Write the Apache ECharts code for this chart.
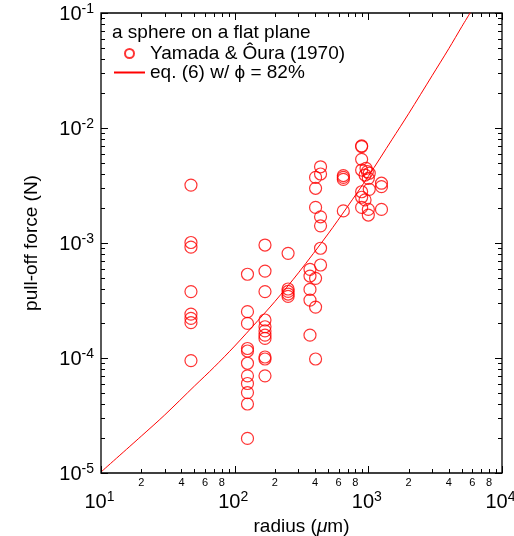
<!DOCTYPE html>
<html>
<head>
<meta charset="utf-8">
<script src="https://cdn.jsdelivr.net/npm/echarts@6/dist/echarts.min.js"></script>
<style>
  html, body { margin: 0; padding: 0; background: #fff; }
  #chart { width: 514px; height: 536px; }
</style>
</head>
<body>
<div id="chart"></div>
<script>
// Pull-off force of a sphere on a flat plane (Yamada & Ôura, 1970) and eq. (6)
const radiusUm = [
  47.1, 47.1, 47.1, 47.1, 47.1, 47.1, 47.1, 47.1,
  124.7, 124.7, 124.7, 124.7, 124.7, 124.7, 124.7, 124.7, 124.7, 124.7, 124.7,
  168.6, 168.6, 168.6, 168.6, 168.6, 168.6, 168.6, 168.6, 168.6, 168.6, 168.6,
  251, 251, 251, 251, 251,
  366, 366, 366, 366, 366,
  403, 403, 403, 403, 403, 403,
  439, 439, 439, 439, 439, 439,
  650, 650, 650, 650,
  891, 891, 891, 891, 891, 891, 891,
  945, 945, 961, 983,
  1000, 1000, 1000, 1016, 1016,
  1254, 1254, 1254
];
const forceN = [
  3.19e-3, 1.01e-3, 9.2e-4, 3.78e-4, 2.41e-4, 2.21e-4, 2.03e-4, 9.5e-5,
  5.35e-4, 2.53e-4, 2.0e-4, 1.21e-4, 1.15e-4, 9.0e-5, 7.0e-5, 6.0e-5, 5.0e-5, 3.98e-5, 2.0e-5,
  9.6e-4, 5.7e-4, 3.78e-4, 2.14e-4, 1.87e-4, 1.72e-4, 1.58e-4, 1.48e-4, 1.02e-4, 9.8e-5, 7.0e-5,
  8.13e-4, 3.98e-4, 3.79e-4, 3.60e-4, 3.43e-4,
  5.9e-4, 5.16e-4, 3.95e-4, 3.19e-4, 1.58e-4,
  3.72e-3, 2.99e-3, 2.04e-3, 4.93e-4, 2.77e-4, 9.8e-5,
  4.6e-3, 3.98e-3, 1.69e-3, 1.41e-3, 9.0e-4, 6.44e-4,
  3.86e-3, 3.72e-3, 3.57e-3, 1.90e-3,
  7.0e-3, 6.9e-3, 5.34e-3, 4.31e-3, 2.79e-3, 2.50e-3, 2.04e-3,
  3.90e-3, 2.37e-3, 4.46e-3, 4.17e-3,
  3.65e-3, 1.96e-3, 1.75e-3, 4.04e-3, 2.93e-3,
  3.31e-3, 3.09e-3, 1.96e-3
];

// eq. (6) with phi = 82 %
const curveRadius = [10, 20, 30, 50, 70, 100, 150, 200, 300, 500, 700, 1000, 1500, 2000, 3000, 4000, 5000, 5800];
const curveForce = [1.02e-5, 2.09e-5, 3.2e-5, 5.7e-5, 8.3e-5, 1.27e-4, 2.13e-4, 3.1e-4, 5.5e-4, 1.2e-3, 2.08e-3, 3.8e-3, 7.9e-3, 1.33e-2, 2.85e-2, 4.9e-2, 7.6e-2, 0.101];

// axis ticks
const xDecades = [10, 100, 1000, 10000];
const yDecades = [1e-5, 1e-4, 1e-3, 1e-2, 1e-1];
const minorSteps = [2, 3, 4, 5, 6, 7, 8, 9];
const minorLabelSteps = [2, 4, 6, 8];

const seriesName = 'Yamada & Ôura (1970)';
const curveName = 'eq. (6) w/ ϕ = 82%';
const FONT = '"Liberation Sans", Helvetica, Arial, sans-serif';
const RED = '#ff0000';

// tick records: [x, y, kind, digit]; kind 0/1 = x major/minor, 2/3 = y major/minor, 4 = x minor label
const tickData = [];
xDecades.forEach(d => tickData.push([d, 1e-3, 0, 0]));
yDecades.forEach(d => tickData.push([100, d, 2, 0]));
xDecades.slice(0, -1).forEach(d => {
  minorSteps.forEach(m => tickData.push([d * m, 1e-3, 1, 0]));
  minorLabelSteps.forEach(m => tickData.push([d * m, 1e-3, 4, m]));
});
yDecades.slice(0, -1).forEach(d => {
  minorSteps.forEach(m => tickData.push([100, d * m, 3, 0]));
});

function powLabel(v) {
  const e = Math.round(Math.log10(v));
  return '{b|10}{s|' + e + '}';
}
const powRich = {
  b: { fontSize: 20, lineHeight: 22, fontFamily: FONT, color: '#000', verticalAlign: 'bottom' },
  s: { fontSize: 14, lineHeight: 14, fontFamily: FONT, color: '#000', verticalAlign: 'top' }
};

const chart = echarts.init(document.getElementById('chart'), null, { renderer: 'canvas' });
chart.setOption({
  animation: false,
  backgroundColor: '#fff',
  title: {
    text: 'a sphere on a flat plane',
    left: 112, top: 23, padding: 0,
    textStyle: { fontSize: 19, fontWeight: 'normal', color: '#000', fontFamily: FONT }
  },
  legend: {
    orient: 'vertical',
    left: 113, top: 44, padding: 0,
    itemWidth: 31, itemHeight: 9, itemGap: 0,
    textStyle: { fontSize: 19, lineHeight: 19, color: '#000', fontFamily: FONT },
    data: [
      { name: seriesName },
      { name: curveName, itemStyle: { opacity: 0 } }
    ]
  },
  grid: {
    left: 101, right: 12, top: 13, bottom: 63,
    outerBoundsMode: 'none',
    containLabel: false,
    show: true, borderColor: '#000', borderWidth: 1.3, backgroundColor: 'transparent'
  },
  xAxis: {
    type: 'log', logBase: 10, min: 10, max: 10000,
    name: 'radius ({i|μ}m)', nameLocation: 'middle', nameGap: 33,
    nameTextStyle: {
      fontSize: 19, color: '#000', fontFamily: FONT,
      rich: { i: { fontSize: 19, fontStyle: 'italic', color: '#000', fontFamily: FONT } }
    },
    axisLine: { show: false },
    axisTick: { show: false },
    splitLine: { show: false },
    axisLabel: { margin: 17, padding: [0, 3, 0, 0], formatter: powLabel, rich: powRich, showMinLabel: true, showMaxLabel: true }
  },
  yAxis: {
    type: 'log', logBase: 10, min: 1e-5, max: 1e-1,
    name: 'pull-off force (N)', nameLocation: 'middle', nameGap: 60, nameRotate: 90,
    nameTextStyle: { fontSize: 19, color: '#000', fontFamily: FONT },
    axisLine: { show: false },
    axisTick: { show: false },
    splitLine: { show: false },
    axisLabel: { margin: 7, formatter: powLabel, rich: powRich, showMinLabel: true, showMaxLabel: true }
  },
  series: [
    {
      name: seriesName,
      type: 'scatter',
      data: radiusUm.map((r, i) => [r, forceN[i]]),
      symbol: 'circle',
      symbolSize: 12,
      itemStyle: { color: 'rgba(255,255,255,0)', borderColor: RED, borderWidth: 1.2 },
      z: 3
    },
    {
      name: curveName,
      type: 'line',
      data: curveRadius.map((r, i) => [r, curveForce[i]]),
      symbol: 'none',
      smooth: 0.3,
      clip: true,
      lineStyle: { color: RED, width: 1 },
      itemStyle: { color: RED },
      z: 2
    },
    {
      type: 'custom',
      silent: true,
      clip: false,
      data: tickData,
      z: 4,
      renderItem: function (params, api) {
        const cs = params.coordSys;
        const kind = api.value(2);
        const style = { stroke: '#000', lineWidth: 1 };
        if (kind === 0 || kind === 1) {
          const px = Math.round(api.coord([api.value(0), 1e-3])[0]) + 0.5;
          const len = kind === 0 ? 7 : 4;
          const yb = cs.y + cs.height, yt = cs.y;
          return { type: 'group', children: [
            { type: 'line', shape: { x1: px, y1: yb, x2: px, y2: yb - len }, style: style },
            { type: 'line', shape: { x1: px, y1: yt, x2: px, y2: yt + len }, style: style }
          ] };
        }
        if (kind === 2 || kind === 3) {
          const py = Math.round(api.coord([100, api.value(1)])[1]) + 0.5;
          const len = kind === 2 ? 7 : 4;
          const xl = cs.x, xr = cs.x + cs.width;
          return { type: 'group', children: [
            { type: 'line', shape: { x1: xl, y1: py, x2: xl + len, y2: py }, style: style },
            { type: 'line', shape: { x1: xr, y1: py, x2: xr - len, y2: py }, style: style }
          ] };
        }
        const px = api.coord([api.value(0), 1e-3])[0];
        return {
          type: 'text',
          style: {
            x: px, y: cs.y + cs.height + 10,
            text: String(api.value(3)),
            fill: '#000', font: '11px ' + FONT,
            align: 'center', verticalAlign: 'middle'
          }
        };
      }
    }
  ]
});
</script>
</body>
</html>
